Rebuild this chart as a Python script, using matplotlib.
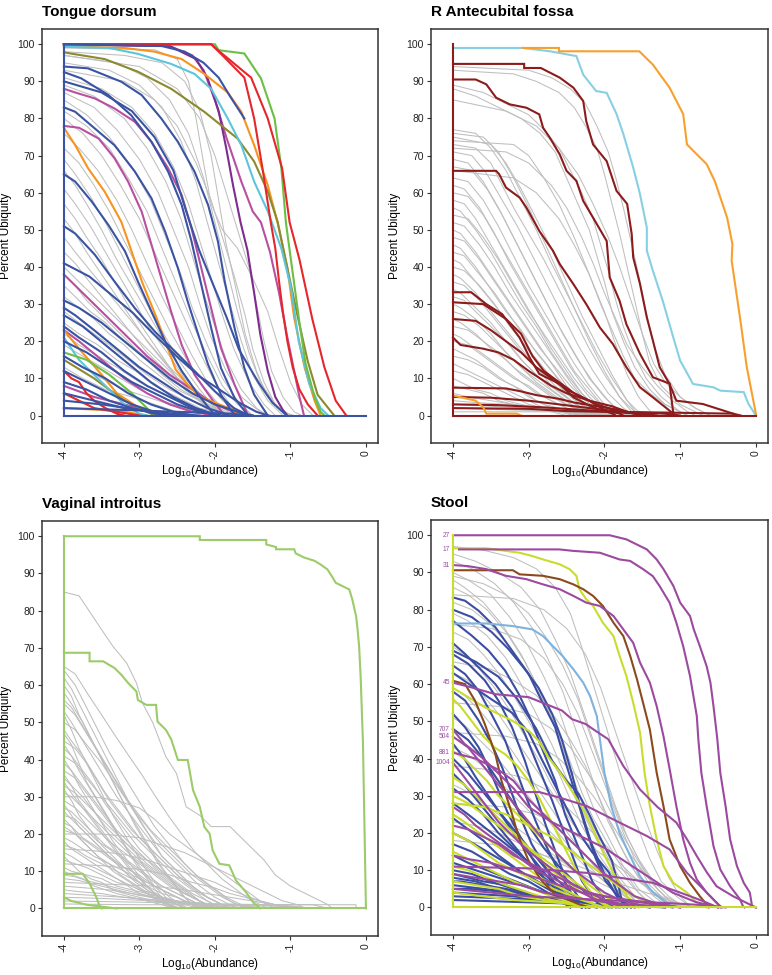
import matplotlib
matplotlib.use("Agg")
import matplotlib.pyplot as plt

plt.rcParams['font.family'] = ['Liberation Sans', 'DejaVu Sans']
plt.rcParams['mathtext.default'] = 'regular'

# ---------------- data: (log10 abundance, percent ubiquity) knots ----------------
# Tongue dorsum
td_grey = [
    [(-4,98),(-3.2,97),(-2.7,95),(-2.4,90),(-2.2,82),(-2.05,70),(-1.95,58),(-1.85,46),(-1.72,34),(-1.6,22),(-1.45,12),(-1.3,5),(-1.1,1),(-0.95,0)],
    [(-4,99),(-2.8,98.5),(-2.5,96),(-2.35,90),(-2.25,80),(-2.15,68),(-2.05,57),(-1.9,50),(-1.7,45),(-1.5,37),(-1.3,28),(-1.15,18),(-1.0,9),(-0.85,3),(-0.7,0)],
    [(-4,97),(-3.0,94),(-2.5,88),(-2.2,80),(-2.0,70),(-1.85,60),(-1.7,50),(-1.55,40),(-1.45,30),(-1.35,20),(-1.25,12),(-1.1,5),(-0.95,1),(-0.85,0)],
    [(-4,93),(-3.2,90),(-2.8,85),(-2.5,78),(-2.25,68),(-2.05,58),(-1.9,48),(-1.75,38),(-1.6,27),(-1.5,18),(-1.35,9),(-1.2,3),(-1.05,0)],
    [(-4,97),(-3.3,95),(-2.9,91),(-2.6,85),(-2.35,76),(-2.15,64),(-2.0,52),(-1.85,40),(-1.7,28),(-1.55,17),(-1.4,9),(-1.2,3),(-1.0,0)],
    [(-4,95),(-3.4,93),(-3.0,89),(-2.7,83),(-2.45,74),(-2.25,63),(-2.1,52),(-1.95,41),(-1.8,30),(-1.65,20),(-1.5,11),(-1.3,4),(-1.1,0)],
    [(-4,91),(-3.5,88),(-3.1,83),(-2.8,76),(-2.55,67),(-2.35,57),(-2.2,47),(-2.05,37),(-1.9,27),(-1.75,18),(-1.55,9),(-1.35,3),(-1.2,0)],
    [(-4,89),(-3.6,86),(-3.2,80),(-2.9,72),(-2.65,63),(-2.45,53),(-2.3,43),(-2.15,33),(-2.0,24),(-1.85,15),(-1.65,7),(-1.45,2),(-1.3,0)],
    [(-4,87),(-3.6,83),(-3.3,77),(-3.0,69),(-2.75,60),(-2.55,50),(-2.35,40),(-2.2,30),(-2.05,21),(-1.85,12),(-1.65,5),(-1.4,1),(-1.25,0)],
    [(-4,85),(-3.7,81),(-3.4,75),(-3.1,67),(-2.85,58),(-2.65,48),(-2.45,38),(-2.3,29),(-2.1,19),(-1.9,10),(-1.7,4),(-1.5,0)],
    [(-4,82),(-3.7,78),(-3.4,72),(-3.15,64),(-2.9,55),(-2.7,45),(-2.5,35),(-2.3,25),(-2.1,16),(-1.9,8),(-1.7,3),(-1.5,0)],
    [(-4,80),(-3.75,76),(-3.5,70),(-3.25,62),(-3.0,53),(-2.8,44),(-2.6,35),(-2.4,26),(-2.2,17),(-2.0,9),(-1.8,3),(-1.6,0)],
    [(-4,76),(-3.8,72),(-3.55,66),(-3.3,58),(-3.1,50),(-2.9,41),(-2.7,32),(-2.5,24),(-2.3,16),(-2.1,9),(-1.9,4),(-1.65,0)],
    [(-4,72),(-3.8,68),(-3.6,62),(-3.4,55),(-3.2,47),(-3.0,39),(-2.8,31),(-2.6,23),(-2.4,16),(-2.2,9),(-1.95,3),(-1.75,0)],
    [(-4,69),(-3.85,65),(-3.65,59),(-3.45,52),(-3.25,44),(-3.05,36),(-2.85,28),(-2.65,21),(-2.45,14),(-2.2,7),(-2.0,2),(-1.8,0)],
    [(-4,66),(-3.85,62),(-3.7,57),(-3.5,50),(-3.3,42),(-3.1,35),(-2.9,28),(-2.7,21),(-2.5,14),(-2.3,8),(-2.05,3),(-1.85,0)],
    [(-4,61),(-3.85,57),(-3.65,51),(-3.45,44),(-3.25,37),(-3.05,30),(-2.85,23),(-2.6,16),(-2.4,10),(-2.15,5),(-1.9,1),(-1.7,0)],
    [(-4,57),(-3.85,53),(-3.7,48),(-3.5,42),(-3.3,35),(-3.1,28),(-2.9,22),(-2.7,16),(-2.5,10),(-2.25,5),(-2.0,1),(-1.8,0)],
    [(-4,53),(-3.85,49),(-3.7,44),(-3.5,38),(-3.3,32),(-3.1,26),(-2.9,20),(-2.7,15),(-2.45,9),(-2.2,4),(-2.0,1),(-1.85,0)],
    [(-4,48),(-3.85,44),(-3.65,39),(-3.45,34),(-3.25,29),(-3.05,24),(-2.85,19),(-2.6,13),(-2.35,8),(-2.1,4),(-1.85,1),(-1.6,0)],
    [(-4,44),(-3.85,41),(-3.7,37),(-3.5,32),(-3.3,27),(-3.1,22),(-2.9,17),(-2.65,12),(-2.4,7),(-2.15,3),(-1.9,1),(-1.7,0)],
    [(-4,40),(-3.85,37),(-3.65,33),(-3.45,29),(-3.25,25),(-3.05,21),(-2.8,16),(-2.55,11),(-2.3,7),(-2.0,3),(-1.75,1),(-1.5,0)],
    [(-4,38),(-3.85,35),(-3.7,31),(-3.5,27),(-3.3,23),(-3.1,19),(-2.9,15),(-2.7,11),(-2.45,7),(-2.2,4),(-1.95,1),(-1.75,0)],
    [(-4,35),(-3.85,32),(-3.65,28),(-3.45,25),(-3.25,21),(-3.0,17),(-2.75,13),(-2.5,9),(-2.25,5),(-2.0,2),(-1.8,0)],
    [(-4,32),(-3.8,29),(-3.6,26),(-3.4,22),(-3.2,19),(-3.0,15),(-2.75,11),(-2.5,7),(-2.2,4),(-1.95,1),(-1.7,0)],
    [(-4,28),(-3.8,25),(-3.6,22),(-3.4,19),(-3.15,15),(-2.9,11),(-2.6,7),(-2.3,4),(-2.0,1.5),(-1.75,0)],
    [(-4,25),(-3.8,22),(-3.55,19),(-3.3,15),(-3.05,12),(-2.8,8),(-2.5,5),(-2.2,2),(-1.9,0.5),(-1.7,0)],
    [(-4,22),(-3.8,19),(-3.55,16),(-3.3,13),(-3.0,9),(-2.7,6),(-2.4,3),(-2.1,1),(-1.8,0)],
    [(-4,19),(-3.75,16),(-3.5,13),(-3.25,10),(-3.0,7),(-2.7,4),(-2.4,2),(-2.1,0.5),(-1.9,0)],
    [(-4,16),(-3.75,13),(-3.5,10),(-3.2,7),(-2.9,5),(-2.6,3),(-2.3,1),(-2.0,0)],
    [(-4,13),(-3.75,10),(-3.45,7),(-3.1,5),(-2.8,3),(-2.5,1),(-2.2,0)],
]
td_magenta = [
    [(-4,88),(-3.85,87),(-3.59,85.4),(-3.33,82.7),(-3.06,79.1),(-2.84,73.7),(-2.62,66.6),(-2.44,59.4),(-2.31,50.4),(-2.18,39.7),(-2.05,28.9),(-1.92,18.2),(-1.74,8.3),(-1.56,0)],
    [(-4,78),(-3.8,77.5),(-3.54,74.6),(-3.33,69.3),(-3.15,63),(-2.97,54.9),(-2.84,46),(-2.71,37),(-2.58,28),(-2.44,19),(-2.27,11),(-2.05,4.7),(-1.87,0)],
    [(-4,100),(-2.6,99.5),(-2.3,97),(-2.15,93),(-2.0,85),(-1.85,75),(-1.65,63),(-1.5,55),(-1.39,52),(-1.27,44),(-1.15,33),(-1.05,22),(-0.95,12),(-0.88,5),(-0.82,0)],
    [(-4,38),(-3.8,34),(-3.5,28),(-3.2,22),(-2.9,16),(-2.6,11),(-2.3,7),(-2.0,3),(-1.75,1),(-1.55,0)],
    [(-4,23),(-3.8,20),(-3.5,15),(-3.2,10),(-2.9,6),(-2.6,3),(-2.3,1),(-2.0,0)],
    [(-4,8),(-3.6,5),(-3.2,3),(-2.8,1),(-2.4,0)],
]
td_purple = [
    [(-4,100),(-2.6,99.5),(-2.25,96),(-2.1,91),(-1.95,82),(-1.85,72),(-1.76,62),(-1.66,52),(-1.57,44.6),(-1.48,33),(-1.4,22),(-1.3,12),(-1.2,5),(-1.1,1.5),(-1.04,0)],
]
td_orange = [
    [(-4,99.5),(-3.2,99),(-2.8,98),(-2.44,96),(-2.14,92),(-1.83,87),(-1.65,81.8),(-1.48,72.8),(-1.3,62),(-1.17,52),(-1.04,39.7),(-0.95,26.3),(-0.81,12.8),(-0.68,4),(-0.6,0)],
    [(-4,77.5),(-3.85,72.8),(-3.68,66.6),(-3.46,60.3),(-3.24,52.2),(-3.1,44),(-2.96,35.7),(-2.78,26.7),(-2.65,19.5),(-2.52,12.4),(-2.38,8.8),(-2.21,5.2),(-1.99,3.4),(-1.77,1.6),(-1.65,0)],
    [(-4,23),(-3.8,18),(-3.5,11),(-3.3,6),(-3.0,2),(-2.8,0.5),(-2.7,0)],
    [(-4,2),(-3.5,1.5),(-3.2,1),(-2.9,0)],
]
td_olive = [
    [(-4,97.8),(-3.46,96),(-3.02,92.6),(-2.58,88),(-2.14,81.8),(-1.92,78.2),(-1.7,74.6),(-1.48,68.4),(-1.3,60.3),(-1.17,52.2),(-1.04,39.7),(-0.9,26.3),(-0.77,14.6),(-0.64,5.6),(-0.42,0)],
    [(-4,15),(-3.6,10),(-3.2,4),(-2.85,0.5),(-2.8,0)],
]
td_cyan = [
    [(-4,99.3),(-3.4,99),(-3.02,97.4),(-2.58,94.7),(-2.27,92),(-2.05,88),(-1.83,80),(-1.65,72.8),(-1.48,63),(-1.3,55),(-1.12,45),(-0.99,34.3),(-0.89,20),(-0.75,8.5),(-0.6,2),(-0.5,0)],
    [(-4,21),(-3.8,15),(-3.5,9),(-3.2,3),(-3.0,0.5),(-2.9,0)],
]
td_green = [
    [(-4,100),(-2.0,100),(-1.95,98.4),(-1.61,97.5),(-1.39,90.8),(-1.21,80),(-1.12,66.6),(-1.06,52),(-0.98,40),(-0.88,25),(-0.8,14),(-0.68,5),(-0.6,1),(-0.55,0)],
    [(-4,17),(-3.7,15),(-3.4,11),(-3.1,6),(-2.9,2),(-2.8,0)],
]
td_red = [
    [(-4,100),(-2.05,100),(-1.96,98.4),(-1.52,91),(-1.3,80),(-1.11,66.6),(-1.01,52),(-0.88,42),(-0.71,26),(-0.55,13),(-0.4,4),(-0.26,0)],
    [(-4,100),(-2.05,100),(-1.9,97),(-1.61,91),(-1.48,80),(-1.37,66.6),(-1.26,52),(-1.2,45),(-1.15,36),(-1.1,28),(-1.04,20),(-0.97,13),(-0.88,7),(-0.77,3),(-0.64,0)],
    [(-4,12),(-3.9,10),(-3.8,9),(-3.7,6),(-3.6,4),(-3.45,2),(-3.3,0.5),(-3.2,0)],
    [(-4,6),(-3.8,4),(-3.6,2),(-3.3,1),(-3.0,0)],
]
td_blue = [
    [(-4,100),(-2.7,99.5),(-2.4,98),(-2.15,95),(-1.95,91),(-1.8,86),(-1.61,80)],
    [(-4,94),(-3.68,93.5),(-3.24,89.9),(-2.97,86.3),(-2.71,80),(-2.49,73.7),(-2.27,65.7),(-2.09,56.7),(-1.96,46.9),(-1.87,36.1),(-1.74,23.6),(-1.61,12.8),(-1.48,5.6),(-1.3,0)],
    [(-4,92.5),(-3.77,90.8),(-3.41,86.3),(-3.11,80.9),(-2.84,73.7),(-2.62,65.7),(-2.44,56.7),(-2.31,46.9),(-2.18,35.2),(-2.05,23.6),(-1.92,12.8),(-1.74,4.7),(-1.56,0)],
    [(-4,90),(-3.5,87),(-3.1,82),(-2.8,75),(-2.55,66),(-2.38,55),(-2.21,44.6),(-2.03,35.6),(-1.85,26.7),(-1.68,17.7),(-1.42,8.8),(-1.24,3.5),(-1.05,0)],
    [(-4,83),(-3.85,81.8),(-3.59,77.3),(-3.33,72.8),(-3.06,65.7),(-2.84,58.5),(-2.66,49.6),(-2.49,39.7),(-2.36,30.7),(-2.22,21.8),(-2.09,13.7),(-1.92,5.6),(-1.74,0)],
    [(-4,65),(-3.85,63),(-3.63,57.6),(-3.41,51.3),(-3.19,44.2),(-3.02,36.1),(-2.84,28),(-2.66,20),(-2.44,12),(-2.22,5.6),(-2.0,0)],
    [(-4,51),(-3.85,49),(-3.59,43.3),(-3.33,36.1),(-3.06,28.9),(-2.8,22.7),(-2.53,17.3),(-2.27,12),(-2.0,6.5),(-1.75,2),(-1.55,0)],
    [(-4,41),(-3.66,37.4),(-3.4,33),(-3.09,27.7),(-2.83,22.3),(-2.51,16),(-2.21,10.6),(-1.94,7),(-1.68,3.5),(-1.45,1),(-1.3,0)],
    [(-4,31),(-3.8,29),(-3.5,25),(-3.2,20),(-2.9,15),(-2.6,10),(-2.3,6),(-2.0,3),(-1.7,1),(-1.5,0)],
    [(-4,29),(-3.85,27),(-3.6,23),(-3.3,18),(-3.0,13),(-2.7,9),(-2.4,5),(-2.1,2),(-1.8,0)],
    [(-4,27),(-3.75,24),(-3.45,19),(-3.15,14),(-2.85,9),(-2.55,5),(-2.25,2),(-1.95,0)],
    [(-4,24),(-3.8,21),(-3.5,17),(-3.2,12),(-2.9,8),(-2.6,5),(-2.3,2),(-2.0,0)],
    [(-4,20),(-3.7,17),(-3.4,13),(-3.1,9),(-2.8,6),(-2.5,3),(-2.2,1),(-1.9,0)],
    [(-4,16),(-3.75,13),(-3.45,10),(-3.15,6),(-2.85,3),(-2.55,1),(-2.3,0)],
    [(-4,12),(-3.7,9),(-3.4,6),(-3.1,3),(-2.8,1),(-2.5,0)],
    [(-4,9),(-3.7,7),(-3.4,4),(-3.1,2),(-2.8,0.5),(-2.5,0)],
    [(-4,6),(-3.6,4),(-3.2,2),(-2.8,1),(-2.4,0)],
    [(-4,4),(-3.5,3),(-3.0,1.5),(-2.6,0.5),(-2.2,0)],
    [(-4,2),(-3.2,1.5),(-2.5,1),(-1.8,0.5),(-1.5,0)],
]

# R Antecubital fossa
ra_grey = [
    [(-4,94),(-3.0,93),(-2.7,91),(-2.45,88),(-2.25,84),(-2.1,78),(-1.95,71),(-1.85,64),(-1.75,56),(-1.65,47),(-1.55,38),(-1.45,28),(-1.35,19),(-1.2,11),(-1.0,5),(-0.8,2),(-0.6,0)],
    [(-4,93),(-3.2,92),(-2.9,90),(-2.6,87),(-2.4,83),(-2.25,78),(-2.1,72),(-2.0,65),(-1.9,57),(-1.8,49),(-1.7,40),(-1.6,31),(-1.5,22),(-1.4,14),(-1.25,8),(-1.0,3),(-0.7,0)],
    [(-4,89),(-3.6,87),(-3.3,84),(-3.0,81),(-2.8,77),(-2.6,72),(-2.45,66),(-2.3,60),(-2.15,53),(-2.05,46),(-1.95,39),(-1.85,31),(-1.75,24),(-1.6,16),(-1.45,10),(-1.25,5),(-1.0,1),(-0.9,0)],
    [(-4,88),(-3.7,86),(-3.4,83),(-3.1,80),(-2.85,76),(-2.65,71),(-2.5,64),(-2.35,57),(-2.2,50),(-2.1,43),(-2.0,36),(-1.9,28),(-1.75,20),(-1.6,13),(-1.4,7),(-1.2,3),(-0.9,0)],
    [(-4,85),(-3.3,82),(-2.9,78),(-2.6,72),(-2.35,65),(-2.15,57),(-1.95,48),(-1.8,40),(-1.65,31),(-1.5,22),(-1.35,14),(-1.2,9),(-1.0,5),(-0.8,2),(-0.6,0)],
    [(-4,72),(-3.3,71),(-3.0,68),(-2.7,62),(-2.5,56),(-2.3,48),(-2.15,41),(-2.0,33),(-1.85,26),(-1.7,19),(-1.5,13),(-1.3,8),(-1.1,4),(-0.9,1),(-0.8,0)],
    [(-4,66),(-3.2,64),(-2.9,60),(-2.6,53),(-2.4,46),(-2.2,38),(-2.05,30),(-1.9,23),(-1.75,16),(-1.6,10),(-1.4,6),(-1.2,3),(-1.0,1),(-0.9,0)],
    [(-4,77),(-3.7,76),(-3.5,72),(-3.3,66),(-3.1,58),(-2.9,50),(-2.7,41),(-2.5,33),(-2.3,25),(-2.1,17),(-1.9,10),(-1.7,4),(-1.5,0)],
    [(-4,76),(-3.6,75),(-3.4,71),(-3.2,64),(-3.0,56),(-2.8,47),(-2.6,38),(-2.4,29),(-2.2,20),(-2.0,12),(-1.8,5),(-1.6,0)],
    [(-4,75),(-3.5,73),(-3.3,68),(-3.1,61),(-2.9,53),(-2.7,45),(-2.5,36),(-2.3,27),(-2.1,19),(-1.9,11),(-1.7,4),(-1.55,0)],
    [(-4,74),(-3.2,73),(-3.0,70),(-2.8,64),(-2.6,57),(-2.4,48),(-2.2,38),(-2.0,28),(-1.85,19),(-1.7,11),(-1.55,5),(-1.35,0)],
    [(-4,73),(-3.7,72),(-3.5,68),(-3.35,62),(-3.2,56),(-3.0,49),(-2.8,42),(-2.6,34),(-2.4,26),(-2.2,18),(-2.0,11),(-1.8,5),(-1.6,1),(-1.4,0)],
    [(-4,71),(-3.75,70),(-3.55,65),(-3.35,58),(-3.15,51),(-2.95,43),(-2.75,35),(-2.55,27),(-2.35,19),(-2.15,12),(-1.95,6),(-1.75,2),(-1.6,0)],
    [(-4,69),(-3.8,68),(-3.6,63),(-3.4,56),(-3.2,48),(-3.0,40),(-2.8,32),(-2.6,24),(-2.4,17),(-2.2,10),(-2.0,5),(-1.8,1),(-1.65,0)],
    [(-4,67),(-3.75,66),(-3.55,61),(-3.35,54),(-3.15,46),(-2.95,38),(-2.75,30),(-2.55,22),(-2.35,15),(-2.15,9),(-1.95,4),(-1.75,0)],
    [(-4,64),(-3.8,63),(-3.6,58),(-3.4,51),(-3.2,43),(-3.0,35),(-2.8,28),(-2.6,21),(-2.4,14),(-2.2,8),(-2.0,3),(-1.85,0)],
    [(-4,62),(-3.85,61),(-3.65,56),(-3.45,49),(-3.25,41),(-3.05,34),(-2.85,27),(-2.65,20),(-2.45,13),(-2.25,7),(-2.05,3),(-1.9,0)],
    [(-4,60),(-3.8,59),(-3.6,54),(-3.4,47),(-3.2,40),(-3.0,33),(-2.8,26),(-2.6,19),(-2.4,12),(-2.2,7),(-2.0,2),(-1.85,0)],
    [(-4,58),(-3.85,57),(-3.7,53),(-3.5,46),(-3.3,39),(-3.1,32),(-2.9,25),(-2.7,18),(-2.5,12),(-2.3,6),(-2.1,2),(-1.95,0)],
    [(-4,56),(-3.9,55),(-3.7,50),(-3.5,44),(-3.3,37),(-3.1,30),(-2.9,24),(-2.7,17),(-2.5,11),(-2.3,6),(-2.1,2),(-1.95,0)],
    [(-4,54),(-3.8,53),(-3.6,48),(-3.4,42),(-3.2,35),(-3.0,28),(-2.8,22),(-2.6,16),(-2.4,10),(-2.2,5),(-2.0,1),(-1.85,0)],
    [(-4,52),(-3.85,51),(-3.65,46),(-3.45,40),(-3.25,33),(-3.05,27),(-2.85,21),(-2.65,15),(-2.45,9),(-2.25,4),(-2.05,1),(-1.9,0)],
    [(-4,50),(-3.9,49),(-3.7,44),(-3.5,38),(-3.3,32),(-3.1,26),(-2.9,20),(-2.7,14),(-2.5,8),(-2.3,4),(-2.1,1),(-1.95,0)],
    [(-4,48),(-3.85,47),(-3.65,42),(-3.45,36),(-3.25,30),(-3.05,24),(-2.85,18),(-2.65,13),(-2.45,8),(-2.25,4),(-2.05,1),(-1.9,0)],
    [(-4,46),(-3.9,45),(-3.7,40),(-3.5,34),(-3.3,28),(-3.1,23),(-2.9,17),(-2.7,12),(-2.5,7),(-2.3,3),(-2.1,1),(-2.0,0)],
    [(-4,44),(-3.85,43),(-3.65,38),(-3.45,33),(-3.25,27),(-3.05,21),(-2.85,16),(-2.65,11),(-2.45,6),(-2.25,3),(-2.05,0)],
    [(-4,42),(-3.9,41),(-3.7,36),(-3.5,31),(-3.3,26),(-3.1,20),(-2.9,15),(-2.7,10),(-2.5,6),(-2.3,3),(-2.1,0)],
    [(-4,40),(-3.85,39),(-3.65,35),(-3.45,30),(-3.25,24),(-3.05,19),(-2.85,14),(-2.65,9),(-2.45,5),(-2.25,2),(-2.05,0)],
    [(-4,38),(-3.9,37),(-3.7,33),(-3.5,28),(-3.3,23),(-3.1,18),(-2.9,13),(-2.7,8),(-2.5,5),(-2.3,2),(-2.15,0)],
    [(-4,36),(-3.85,35),(-3.65,31),(-3.45,26),(-3.25,21),(-3.05,16),(-2.85,12),(-2.65,8),(-2.45,4),(-2.2,1),(-2.05,0)],
    [(-4,34),(-3.9,33),(-3.7,29),(-3.5,25),(-3.3,20),(-3.1,15),(-2.9,11),(-2.7,7),(-2.5,4),(-2.3,1),(-2.1,0)],
    [(-4,32),(-3.85,31),(-3.65,27),(-3.45,23),(-3.25,19),(-3.05,14),(-2.85,10),(-2.65,7),(-2.45,4),(-2.25,1),(-2.1,0)],
    [(-4,30),(-3.9,29),(-3.7,26),(-3.5,22),(-3.3,17),(-3.1,13),(-2.9,9),(-2.7,6),(-2.5,3),(-2.3,1),(-2.15,0)],
    [(-4,28),(-3.85,27),(-3.65,24),(-3.45,20),(-3.25,16),(-3.05,12),(-2.85,9),(-2.65,6),(-2.45,3),(-2.25,1),(-2.1,0)],
    [(-4,26),(-3.9,25),(-3.7,22),(-3.5,18),(-3.3,15),(-3.1,11),(-2.9,8),(-2.7,5),(-2.5,3),(-2.3,1),(-2.2,0)],
    [(-4,24),(-3.8,23),(-3.6,20),(-3.4,17),(-3.2,13),(-3.0,10),(-2.8,7),(-2.6,4),(-2.4,2),(-2.2,1),(-2.0,0)],
    [(-4,22),(-3.9,21),(-3.7,18),(-3.5,15),(-3.3,12),(-3.1,9),(-2.9,6),(-2.7,4),(-2.5,2),(-2.3,1),(-2.2,0)],
    [(-4,20),(-3.8,19),(-3.6,16),(-3.4,13),(-3.2,10),(-3.0,8),(-2.8,5),(-2.6,3),(-2.4,1),(-2.2,0)],
    [(-4,18),(-3.9,17),(-3.7,15),(-3.5,12),(-3.3,9),(-3.1,7),(-2.9,4),(-2.7,2),(-2.5,1),(-2.3,0)],
    [(-4,16),(-3.8,15),(-3.6,13),(-3.4,10),(-3.2,8),(-3.0,5),(-2.8,3),(-2.6,2),(-2.4,1),(-2.2,0)],
    [(-4,14),(-3.9,13),(-3.7,11),(-3.5,9),(-3.3,7),(-3.1,5),(-2.9,3),(-2.7,1),(-2.5,0)],
    [(-4,12),(-3.8,11),(-3.6,9),(-3.4,7),(-3.2,5),(-3.0,3),(-2.8,2),(-2.5,1),(-2.3,0)],
    [(-4,10),(-3.9,9),(-3.7,7),(-3.5,6),(-3.3,4),(-3.1,3),(-2.9,2),(-2.6,1),(-2.4,0)],
    [(-4,8),(-3.8,7),(-3.6,6),(-3.4,4),(-3.2,3),(-2.9,2),(-2.6,1),(-2.3,0)],
    [(-4,6),(-3.8,5),(-3.5,4),(-3.2,3),(-2.9,2),(-2.5,1),(-2.2,0)],
    [(-4,4),(-3.7,3.5),(-3.3,3),(-2.9,2),(-2.5,1),(-2.1,0.5),(-1.9,0)],
    [(-4,3),(-3.5,2.5),(-3.0,2),(-2.5,1.5),(-2.0,1),(-1.6,0)],
    [(-4,2),(-3.2,1.5),(-2.5,1),(-1.8,1),(-1.2,0.5),(-1.0,0)],
    [(-4,1),(-3.0,1),(-2.0,1),(-1.5,1),(-1.0,0)],
]
ra_darkred = [
    [(-4,94.7),(-3.06,94.7),(-3.06,93.6),(-2.84,93.6),(-2.59,91),(-2.41,88.3),(-2.28,84.7),(-2.24,79.3),(-2.15,73),(-1.97,68.5),(-1.84,60.5),(-1.7,57),(-1.64,48.9),(-1.62,42.6),(-1.53,35.4),(-1.44,26.4),(-1.36,20.2),(-1.27,13),(-1.14,8.5),(-1.05,4),(-0.7,3.1),(-0.3,0.5),(-0.28,0)],
    [(-4,90.5),(-3.7,90.5),(-3.56,89.2),(-3.43,85.6),(-3.25,83.8),(-3.03,82.9),(-2.86,81.1),(-2.81,77.5),(-2.72,74.8),(-2.59,70.3),(-2.5,65.9),(-2.37,63.2),(-2.28,57.8),(-2.15,53.3),(-1.97,47),(-1.93,37.2),(-1.8,30.9),(-1.71,24.6),(-1.53,16.6),(-1.36,10.3),(-1.14,8.6),(-1.09,0.5),(-1.08,0)],
    [(-4,65.9),(-3.43,65.9),(-3.39,65),(-3.3,61.4),(-3.12,58.7),(-3.03,56),(-2.86,49.7),(-2.68,44.4),(-2.59,40.8),(-2.41,35.4),(-2.24,30),(-2.06,23.7),(-1.89,19.3),(-1.71,13),(-1.53,7.6),(-1.36,4.9),(-1.09,0.5),(-1.08,0)],
    [(-4,33.2),(-3.76,33.2),(-3.56,30),(-3.35,27.3),(-3.12,21),(-2.99,15.7),(-2.86,11.2),(-2.59,8.5),(-2.41,4.9),(-2.15,2.2),(-1.89,0.5),(-1.85,0)],
    [(-4,30.5),(-3.6,30),(-3.3,26),(-3.1,22),(-2.95,16),(-2.8,12),(-2.6,9),(-2.4,6),(-2.2,4),(-2.0,1.5),(-1.8,0.5),(-1.75,0)],
    [(-4,26),(-3.7,25.5),(-3.5,23),(-3.3,20),(-3.1,17),(-2.9,13),(-2.7,10),(-2.5,7),(-2.3,5),(-2.1,3),(-1.8,1),(-1.6,0.5),(-1.55,0)],
    [(-4,21),(-3.9,19),(-3.6,18),(-3.4,17),(-3.2,15),(-3.0,12),(-2.7,8),(-2.5,6),(-2.2,4),(-1.9,2.5),(-1.7,1),(-1.5,0.5),(-1.45,0)],
    [(-4,7.5),(-3.3,7.3),(-3.1,6.5),(-2.9,5.5),(-2.6,4.5),(-2.4,3.5),(-2.1,2.5),(-1.8,1.5),(-1.6,0.5),(-1.5,0)],
    [(-4,5),(-3.5,4.8),(-3.0,4),(-2.6,3),(-2.2,2),(-1.8,1),(-1.2,0.5),(-1.0,0)],
    [(-4,3),(-3.4,2.8),(-2.8,2.2),(-2.3,1.5),(-1.9,1),(-1.5,0.5),(-1.3,0)],
    [(-4,2),(-3.0,1.8),(-2.5,1.2),(-2.0,1),(-1.2,0.8),(-0.3,0.5),(-0.2,0)],
]
ra_cyan = [
    [(-4,99),(-3.08,99),(-2.72,98.1),(-2.37,96.8),(-2.28,91.8),(-2.11,87.4),(-1.97,86.9),(-1.84,81.2),(-1.75,75.8),(-1.62,66.8),(-1.53,59.6),(-1.44,50.6),(-1.44,44.4),(-1.36,39),(-1.23,30.9),(-1.09,21),(-1.0,14.8),(-0.83,8.5),(-0.56,7.6),(-0.47,6.7),(-0.16,6.3),(-0.1,3.2),(0,0)],
]
ra_orange = [
    [(-3.08,99),(-2.6,99),(-2.6,98.1),(-1.54,98.1),(-1.36,94.5),(-1.14,88.3),(-0.96,81.2),(-0.91,73),(-0.65,67.7),(-0.54,63),(-0.38,53.3),(-0.31,46.2),(-0.32,41.7),(-0.21,26.4),(-0.12,13),(0,0.5),(0,0)],
    [(-4,5.4),(-3.7,4),(-3.6,2.2),(-3.56,0.5),(-3.16,0.5),(-3.1,0)],
]

# Vaginal introitus
vi_grey = [
    [(-4,85),(-3.9,84.5),(-3.8,84),(-3.7,81),(-3.53,75.8),(-3.35,70.4),(-3.17,66),(-3.04,60.6),(-2.96,55.2),(-2.82,49.8),(-2.65,40.8),(-2.51,36.3),(-2.38,27.3),(-2.2,25),(-2.05,22),(-1.8,22),(-1.55,17),(-1.35,13),(-1.2,9),(-1.0,6),(-0.7,3),(-0.5,1),(-0.45,0)],
    [(-4,65),(-3.85,63),(-3.68,57.5),(-3.5,52),(-3.33,46.7),(-3.15,41.3),(-2.97,36),(-2.8,30.5),(-2.62,25),(-2.44,20),(-2.27,15.3),(-2.09,11.7),(-1.91,8),(-1.74,5.4),(-1.56,2.7),(-1.39,0.9),(-1.3,0)],
    [(-4,64),(-3.85,60),(-3.7,54),(-3.55,48),(-3.4,42),(-3.25,37),(-3.1,32),(-2.95,27),(-2.8,22),(-2.6,17),(-2.4,12),(-2.2,8),(-2.0,5),(-1.8,2),(-1.6,0)],
    [(-4,62),(-3.9,59),(-3.75,53),(-3.6,47),(-3.45,41),(-3.3,35),(-3.15,29),(-3.0,24),(-2.85,19),(-2.7,14),(-2.5,10),(-2.3,6),(-2.1,3),(-1.9,1),(-1.8,0)],
    [(-4,60),(-3.9,57),(-3.8,52),(-3.65,46),(-3.5,40),(-3.35,34),(-3.2,28),(-3.05,22),(-2.9,17),(-2.75,12),(-2.6,8),(-2.45,4),(-2.3,1),(-2.2,0)],
    [(-4,58),(-3.9,55),(-3.75,50),(-3.6,44),(-3.45,38),(-3.3,32),(-3.15,26),(-3.0,21),(-2.85,16),(-2.7,11),(-2.55,7),(-2.4,3),(-2.25,0)],
    [(-4,56),(-3.9,54),(-3.75,49),(-3.6,44),(-3.45,39),(-3.3,34),(-3.15,29),(-3.0,25),(-2.85,21),(-2.65,17),(-2.45,13),(-2.25,9),(-2.05,6),(-1.85,3),(-1.65,1),(-1.5,0)],
    [(-4,55),(-3.85,52),(-3.7,47),(-3.55,42),(-3.4,37),(-3.25,32),(-3.1,27),(-2.95,22),(-2.8,18),(-2.6,14),(-2.4,10),(-2.2,6),(-2.0,3),(-1.8,1),(-1.7,0)],
    [(-4,53),(-3.9,50),(-3.75,45),(-3.6,40),(-3.45,35),(-3.3,30),(-3.15,26),(-3.0,22),(-2.85,18),(-2.7,14),(-2.5,10),(-2.3,6),(-2.1,3),(-1.9,1),(-1.8,0)],
    [(-4,52),(-3.9,48),(-3.8,43),(-3.65,37),(-3.5,31),(-3.35,25),(-3.2,20),(-3.05,15),(-2.9,10),(-2.75,6),(-2.6,3),(-2.45,1),(-2.35,0)],
    [(-4,50),(-3.85,48),(-3.7,44),(-3.5,39),(-3.3,33),(-3.1,27),(-2.9,22),(-2.7,17),(-2.5,13),(-2.3,9),(-2.1,6),(-1.9,3),(-1.7,1),(-1.55,0)],
    [(-4,48),(-3.9,45),(-3.75,41),(-3.6,36),(-3.45,31),(-3.3,27),(-3.15,23),(-3.0,19),(-2.8,15),(-2.6,11),(-2.4,7),(-2.2,4),(-2.0,2),(-1.8,0)],
    [(-4,47),(-3.9,44),(-3.8,39),(-3.7,34),(-3.55,29),(-3.4,24),(-3.25,19),(-3.1,14),(-2.95,10),(-2.8,6),(-2.65,3),(-2.5,1),(-2.4,0)],
    [(-4,45),(-3.85,43),(-3.7,39),(-3.55,34),(-3.4,29),(-3.25,25),(-3.1,21),(-2.9,17),(-2.7,13),(-2.5,9),(-2.3,6),(-2.1,3),(-1.9,1),(-1.75,0)],
    [(-4,44),(-3.9,41),(-3.8,37),(-3.65,32),(-3.5,27),(-3.35,22),(-3.2,17),(-3.05,12),(-2.9,8),(-2.75,4),(-2.6,1),(-2.5,0)],
    [(-4,43),(-3.9,41),(-3.75,37),(-3.6,33),(-3.45,28),(-3.3,24),(-3.15,20),(-3.0,16),(-2.8,12),(-2.6,8),(-2.4,5),(-2.2,2),(-2.0,0)],
    [(-4,41),(-3.85,39),(-3.7,35),(-3.5,30),(-3.3,25),(-3.1,20),(-2.9,16),(-2.7,12),(-2.5,8),(-2.3,5),(-2.1,2),(-1.9,0)],
    [(-4,40),(-3.9,37),(-3.8,33),(-3.65,28),(-3.5,23),(-3.35,18),(-3.2,14),(-3.05,10),(-2.9,6),(-2.75,3),(-2.6,1),(-2.5,0)],
    [(-4,39),(-3.9,37),(-3.75,33),(-3.6,29),(-3.45,25),(-3.3,21),(-3.15,18),(-3.0,15),(-2.8,11),(-2.6,8),(-2.4,5),(-2.2,2),(-2.0,0)],
    [(-4,37),(-3.85,35),(-3.7,31),(-3.55,27),(-3.4,23),(-3.25,19),(-3.1,16),(-2.9,12),(-2.7,9),(-2.5,6),(-2.3,3),(-2.1,1),(-1.95,0)],
    [(-4,36),(-3.9,33),(-3.8,29),(-3.65,25),(-3.5,21),(-3.35,17),(-3.2,13),(-3.05,9),(-2.9,6),(-2.75,3),(-2.6,1),(-2.5,0)],
    [(-4,35),(-3.9,33),(-3.75,30),(-3.6,26),(-3.45,22),(-3.3,19),(-3.15,16),(-3.0,13),(-2.8,10),(-2.6,7),(-2.4,4),(-2.2,2),(-2.0,0)],
    [(-4,34),(-3.9,31),(-3.75,27),(-3.6,23),(-3.45,19),(-3.3,15),(-3.15,11),(-3.0,8),(-2.85,5),(-2.7,2),(-2.55,0)],
    [(-4,33),(-3.85,31),(-3.7,28),(-3.5,24),(-3.3,20),(-3.1,16),(-2.9,13),(-2.7,10),(-2.5,7),(-2.3,4),(-2.1,2),(-1.9,0)],
    [(-4,32),(-3.9,29),(-3.8,25),(-3.65,21),(-3.5,17),(-3.35,14),(-3.2,11),(-3.05,8),(-2.9,5),(-2.75,3),(-2.6,1),(-2.5,0)],
    [(-4,31),(-3.9,30),(-3.75,27),(-3.6,24),(-3.45,21),(-3.3,18),(-3.1,14),(-2.9,11),(-2.7,8),(-2.5,5),(-2.3,3),(-2.1,1),(-2.0,0)],
    [(-4,30),(-3.6,30),(-3.3,29),(-3.0,27),(-2.8,24),(-2.6,20),(-2.4,17),(-2.2,14),(-2.0,11),(-1.8,8),(-1.6,5),(-1.4,2),(-1.2,0)],
    [(-4,29),(-3.85,27),(-3.7,24),(-3.55,21),(-3.4,18),(-3.2,15),(-3.0,12),(-2.8,9),(-2.6,6),(-2.4,4),(-2.2,2),(-2.0,0)],
    [(-4,28),(-3.9,25),(-3.8,22),(-3.65,19),(-3.5,16),(-3.35,13),(-3.2,10),(-3.05,7),(-2.9,5),(-2.75,3),(-2.6,1),(-2.45,0)],
    [(-4,27),(-3.9,26),(-3.75,23),(-3.6,20),(-3.45,17),(-3.3,15),(-3.1,12),(-2.9,9),(-2.7,6),(-2.5,4),(-2.3,2),(-2.1,0)],
    [(-4,26),(-3.9,24),(-3.75,21),(-3.6,18),(-3.45,15),(-3.3,12),(-3.15,9),(-3.0,7),(-2.85,5),(-2.7,3),(-2.5,1),(-2.4,0)],
    [(-4,25),(-3.85,24),(-3.7,21),(-3.55,18),(-3.4,16),(-3.2,13),(-3.0,10),(-2.8,7),(-2.6,5),(-2.4,3),(-2.2,1),(-2.05,0)],
    [(-4,24),(-3.9,22),(-3.8,19),(-3.65,16),(-3.5,13),(-3.35,10),(-3.2,8),(-3.05,6),(-2.9,4),(-2.75,2),(-2.6,1),(-2.5,0)],
    [(-4,23),(-3.9,22),(-3.75,19),(-3.6,17),(-3.4,14),(-3.2,11),(-3.0,9),(-2.8,6),(-2.6,4),(-2.4,2),(-2.2,1),(-2.1,0)],
    [(-4,22),(-3.85,20),(-3.7,17),(-3.55,14),(-3.4,12),(-3.25,9),(-3.1,7),(-2.95,5),(-2.8,3),(-2.65,1),(-2.5,0)],
    [(-4,21),(-3.85,20),(-3.7,18),(-3.5,15),(-3.3,12),(-3.1,10),(-2.9,7),(-2.7,5),(-2.5,3),(-2.3,1),(-2.15,0)],
    [(-4,20),(-3.5,20),(-3.0,19),(-2.7,17),(-2.4,15),(-2.1,12),(-1.9,10),(-1.7,8),(-1.5,6),(-1.3,4),(-1.1,2),(-0.9,1),(-0.8,0)],
    [(-4,19),(-3.9,18),(-3.75,16),(-3.6,14),(-3.4,12),(-3.2,10),(-3.0,8),(-2.8,6),(-2.6,4),(-2.4,2),(-2.2,1),(-2.0,0)],
    [(-4,18),(-3.9,16),(-3.75,14),(-3.6,12),(-3.45,10),(-3.3,8),(-3.15,6),(-3.0,4),(-2.85,3),(-2.7,2),(-2.5,1),(-2.35,0)],
    [(-4,17),(-3.85,16),(-3.7,14),(-3.5,12),(-3.3,10),(-3.1,8),(-2.9,6),(-2.7,4),(-2.5,3),(-2.3,1),(-2.1,0)],
    [(-4,16),(-3.6,15.5),(-3.2,14.5),(-2.9,13),(-2.6,11),(-2.3,9),(-2.0,7),(-1.8,5),(-1.6,3.5),(-1.4,2),(-1.2,1),(-1.0,0)],
    [(-4,15),(-3.9,14),(-3.75,12),(-3.6,11),(-3.4,9),(-3.2,7),(-3.0,5),(-2.8,4),(-2.6,2),(-2.4,1),(-2.2,0)],
    [(-4,14),(-3.9,12),(-3.8,10),(-3.65,8),(-3.5,7),(-3.35,5),(-3.2,4),(-3.0,3),(-2.8,2),(-2.6,1),(-2.45,0)],
    [(-4,13),(-3.85,12),(-3.7,11),(-3.5,9),(-3.3,7),(-3.1,6),(-2.9,4),(-2.7,3),(-2.5,2),(-2.3,1),(-2.1,0)],
    [(-4,12),(-3.5,11.5),(-3.0,10.5),(-2.6,9),(-2.3,7),(-2.0,5.5),(-1.8,4),(-1.6,3),(-1.4,2),(-1.2,1),(-0.9,0.5),(-0.8,0)],
    [(-4,11),(-3.9,10),(-3.7,9),(-3.5,8),(-3.3,6),(-3.1,5),(-2.9,4),(-2.7,3),(-2.5,2),(-2.2,1),(-2.0,0)],
    [(-4,10),(-3.9,9),(-3.75,8),(-3.6,6),(-3.45,5),(-3.3,4),(-3.1,3),(-2.9,2),(-2.7,1),(-2.55,0)],
    [(-4,9),(-3.85,8.5),(-3.7,7.5),(-3.5,6.5),(-3.3,5.5),(-3.1,4.5),(-2.9,3.5),(-2.7,2.5),(-2.4,1.5),(-2.1,1),(-1.8,0)],
    [(-4,8),(-3.8,7.5),(-3.6,6.5),(-3.4,5.5),(-3.2,4.5),(-3.0,3.5),(-2.7,2.5),(-2.4,1.5),(-2.1,1),(-1.7,0)],
    [(-4,7),(-3.4,6.5),(-2.8,6),(-2.4,5),(-2.1,4),(-1.8,3),(-1.5,2),(-1.2,1),(-0.7,1),(-0.5,0)],
    [(-4,6),(-3.7,5.5),(-3.4,5),(-3.1,4),(-2.8,3),(-2.5,2),(-2.2,1.5),(-1.9,1),(-1.6,0)],
    [(-4,5),(-3.8,4.5),(-3.5,4),(-3.2,3),(-2.9,2.5),(-2.6,2),(-2.3,1),(-1.9,0.5),(-1.7,0)],
    [(-4,4),(-3.6,3.5),(-3.2,3),(-2.8,2),(-2.4,1.5),(-2.0,1),(-1.5,0.5),(-1.3,0)],
    [(-4,3),(-3.5,2.7),(-3.0,2.2),(-2.5,1.8),(-2.0,1.2),(-1.5,1),(-1.0,0.5),(-0.8,0)],
    [(-4,2),(-3.3,1.8),(-2.6,1.5),(-1.9,1.2),(-1.2,1),(-0.5,1),(-0.13,1),(-0.13,0)],
    [(-4,1.2),(-3.0,1),(-2.0,1),(-1.0,0.5),(-0.6,0)],
]
vi_green = [
    [(-4,100),(-2.2,100),(-2.2,99),(-1.32,99),(-1.32,97.8),(-1.19,97.1),(-1.19,96.5),(-0.95,96.5),(-0.93,95.4),(-0.82,94.3),(-0.68,93.4),(-0.6,92.4),(-0.51,91.1),(-0.44,88.9),(-0.4,87.5),(-0.31,86.6),(-0.22,85.7),(-0.18,83),(-0.13,78.5),(-0.11,74.9),(-0.09,70.4),(-0.07,62.3),(-0.05,50.7),(-0.04,45.3),(-0.02,22.9),(0,0.3),(0,0)],
    [(-4,68.7),(-3.66,68.7),(-3.66,66.4),(-3.48,66.4),(-3.33,64.6),(-3.24,62.8),(-3.15,60.6),(-3.04,58.3),(-3.02,56),(-2.91,54.7),(-2.78,54.7),(-2.76,50.2),(-2.65,48),(-2.58,45.5),(-2.49,39.9),(-2.36,39.9),(-2.29,31.8),(-2.2,27.3),(-2.14,21.9),(-2.07,20.1),(-2.03,15.6),(-1.94,12),(-1.81,11.6),(-1.72,7.5),(-1.59,4.4),(-1.48,1.3),(-1.41,0.3),(-1.4,0)],
    [(-4,9.3),(-3.75,9.3),(-3.66,6.7),(-3.57,3),(-3.53,0.8),(-3.5,0)],
    [(-4,3),(-3.9,2),(-3.7,1),(-3.5,0.5),(-3.3,0)],
]

# Stool
st_grey = [
    [(-4,97),(-3.6,96),(-3.2,94),(-2.9,91),(-2.65,86),(-2.45,79),(-2.3,70),(-2.15,60),(-2.0,50),(-1.85,40),(-1.7,30),(-1.55,21),(-1.4,13),(-1.25,7),(-1.05,3),(-0.85,0)],
    [(-4,95),(-3.7,93),(-3.4,90),(-3.1,86),(-2.85,80),(-2.65,72),(-2.45,63),(-2.3,54),(-2.15,45),(-2.0,36),(-1.85,27),(-1.7,19),(-1.5,11),(-1.3,5),(-1.1,1),(-0.95,0)],
    [(-4,93),(-3.75,91),(-3.45,87),(-3.2,82),(-2.95,75),(-2.75,67),(-2.55,58),(-2.4,49),(-2.25,40),(-2.1,31),(-1.95,23),(-1.75,15),(-1.55,8),(-1.35,3),(-1.15,0)],
    [(-4,90),(-3.8,88),(-3.5,84),(-3.25,78),(-3.0,70),(-2.8,62),(-2.6,53),(-2.45,44),(-2.3,35),(-2.15,27),(-1.95,19),(-1.75,11),(-1.55,5),(-1.3,1),(-1.15,0)],
    [(-4,89),(-3.6,87),(-3.3,84),(-3.0,79),(-2.75,72),(-2.55,65),(-2.35,56),(-2.2,47),(-2.05,38),(-1.9,29),(-1.75,21),(-1.55,13),(-1.35,7),(-1.15,3),(-0.95,0)],
    [(-4,88),(-3.85,86),(-3.6,82),(-3.35,76),(-3.1,68),(-2.9,60),(-2.7,51),(-2.55,42),(-2.4,34),(-2.25,26),(-2.05,18),(-1.85,11),(-1.6,5),(-1.4,1),(-1.25,0)],
    [(-4,86),(-3.8,84),(-3.55,80),(-3.3,74),(-3.05,66),(-2.85,58),(-2.65,49),(-2.5,40),(-2.35,31),(-2.2,23),(-2.0,15),(-1.8,8),(-1.6,3),(-1.4,0)],
    [(-4,84),(-3.2,83),(-2.8,80),(-2.5,75),(-2.25,68),(-2.05,59),(-1.9,50),(-1.75,41),(-1.6,32),(-1.45,23),(-1.3,15),(-1.15,8),(-1.0,3),(-0.85,0)],
    [(-4,82),(-3.75,80),(-3.5,76),(-3.25,70),(-3.0,63),(-2.8,55),(-2.6,47),(-2.45,39),(-2.3,31),(-2.15,24),(-1.95,17),(-1.75,10),(-1.55,4),(-1.35,0)],
    [(-4,79),(-3.8,77),(-3.55,73),(-3.3,67),(-3.1,60),(-2.9,52),(-2.7,44),(-2.55,37),(-2.4,30),(-2.2,22),(-2.0,14),(-1.8,7),(-1.6,2),(-1.45,0)],
    [(-4,76),(-3.5,75),(-3.1,72),(-2.8,67),(-2.55,60),(-2.35,52),(-2.2,44),(-2.05,36),(-1.9,28),(-1.75,20),(-1.6,13),(-1.4,6),(-1.2,2),(-1.05,0)],
    [(-4,74),(-3.8,72),(-3.6,68),(-3.4,63),(-3.2,57),(-3.0,50),(-2.8,43),(-2.6,36),(-2.45,29),(-2.3,22),(-2.1,15),(-1.9,9),(-1.7,4),(-1.5,0)],
    [(-4,70),(-3.85,68),(-3.65,64),(-3.45,59),(-3.25,53),(-3.05,46),(-2.85,39),(-2.7,33),(-2.5,26),(-2.3,19),(-2.1,13),(-1.9,7),(-1.7,3),(-1.5,0)],
    [(-4,66),(-3.5,64),(-3.2,61),(-2.9,57),(-2.65,51),(-2.45,45),(-2.25,38),(-2.1,31),(-1.95,24),(-1.8,17),(-1.65,11),(-1.45,6),(-1.25,2),(-1.1,0)],
    [(-4,63),(-3.8,61),(-3.6,57),(-3.4,52),(-3.2,46),(-3.0,40),(-2.8,34),(-2.6,28),(-2.4,22),(-2.2,16),(-2.0,11),(-1.8,6),(-1.6,2),(-1.4,0)],
    [(-4,59),(-3.85,57),(-3.65,53),(-3.45,48),(-3.25,43),(-3.05,37),(-2.85,31),(-2.65,25),(-2.45,19),(-2.25,14),(-2.05,9),(-1.85,5),(-1.65,2),(-1.45,0)],
    [(-4,55),(-3.4,54),(-3.0,52),(-2.7,48),(-2.45,43),(-2.25,37),(-2.05,31),(-1.9,25),(-1.75,19),(-1.6,14),(-1.45,9),(-1.3,5),(-1.15,2),(-1.0,0)],
    [(-4,51),(-3.85,49),(-3.65,45),(-3.45,41),(-3.25,36),(-3.05,31),(-2.85,26),(-2.65,21),(-2.45,16),(-2.25,12),(-2.05,8),(-1.85,4),(-1.65,1),(-1.5,0)],
    [(-4,47),(-3.3,46),(-2.9,44),(-2.6,40),(-2.35,35),(-2.15,30),(-1.95,24),(-1.8,19),(-1.65,14),(-1.5,10),(-1.35,6),(-1.2,3),(-1.0,1),(-0.9,0)],
    [(-4,43),(-3.8,41),(-3.6,38),(-3.4,34),(-3.2,30),(-3.0,26),(-2.8,22),(-2.6,18),(-2.4,14),(-2.2,10),(-2.0,7),(-1.8,4),(-1.6,1),(-1.45,0)],
    [(-4,38),(-3.5,37),(-3.1,35),(-2.8,32),(-2.55,28),(-2.35,24),(-2.15,20),(-1.95,16),(-1.8,12),(-1.6,8),(-1.4,5),(-1.2,2),(-1.0,0)],
    [(-4,33),(-3.8,31),(-3.6,28),(-3.4,25),(-3.2,22),(-3.0,19),(-2.8,16),(-2.6,13),(-2.4,10),(-2.2,7),(-2.0,4),(-1.8,2),(-1.6,0)],
    [(-4,28),(-3.3,27),(-2.9,25),(-2.6,22),(-2.35,19),(-2.15,16),(-1.95,13),(-1.75,10),(-1.55,7),(-1.35,4),(-1.15,2),(-0.95,0)],
    [(-4,23),(-3.7,22),(-3.4,20),(-3.1,17),(-2.8,14),(-2.5,11),(-2.2,8),(-1.9,5),(-1.6,3),(-1.3,1),(-1.1,0)],
    [(-4,18),(-3.5,17),(-3.0,15),(-2.6,13),(-2.2,10),(-1.9,7),(-1.6,5),(-1.3,3),(-1.0,1),(-0.8,0)],
]
st_blue = [
    [(-4,83.3),(-3.84,82.4),(-3.66,79.7),(-3.44,75.3),(-3.22,69),(-3.0,62.7),(-2.83,55.6),(-2.65,48.4),(-2.52,39.4),(-2.38,30.5),(-2.25,21.5),(-2.12,13.4),(-1.99,7.2),(-1.81,2.7),(-1.65,0)],
    [(-4,80),(-3.75,78),(-3.49,74),(-3.27,69.5),(-3.05,64),(-2.87,59),(-2.69,52),(-2.56,45),(-2.43,36),(-2.3,25.5),(-2.16,16.5),(-1.99,8.5),(-1.81,2),(-1.65,0)],
    [(-4,77),(-3.75,73),(-3.53,69),(-3.31,63.6),(-3.13,57.3),(-2.96,50),(-2.83,43),(-2.65,34),(-2.52,25),(-2.34,16),(-2.16,7),(-1.99,1.8),(-1.85,0)],
    [(-4,71),(-3.84,68.1),(-3.66,64.5),(-3.44,60),(-3.22,53.8),(-3.05,46.6),(-2.87,37.6),(-2.69,28.7),(-2.56,21.5),(-2.43,14.3),(-2.3,7.2),(-2.12,1.8),(-1.95,0)],
    [(-4,69),(-3.7,66),(-3.4,62),(-3.15,56),(-2.9,48),(-2.69,39.4),(-2.5,34),(-2.34,30.5),(-2.2,25),(-2.08,19.7),(-1.9,12.5),(-1.81,5.4),(-1.75,0)],
    [(-4,68),(-3.8,65.5),(-3.58,61),(-3.4,55.6),(-3.22,48.4),(-3.05,39.4),(-2.91,30.5),(-2.78,22.4),(-2.65,15.2),(-2.52,8.1),(-2.34,2.7),(-2.2,0)],
    [(-4,65),(-3.84,62.7),(-3.66,58.2),(-3.49,51.9),(-3.31,44.8),(-3.18,37.6),(-3.05,30.5),(-2.91,23.3),(-2.78,17),(-2.61,9.9),(-2.43,3.6),(-2.25,0)],
    [(-4,63),(-3.75,59.5),(-3.49,55.9),(-3.22,52.3),(-3.0,47),(-2.83,39.9),(-2.65,32.7),(-2.47,25.5),(-2.34,20.2),(-2.16,14.8),(-1.94,9.4),(-1.81,3),(-1.7,0)],
    [(-4,58),(-3.84,55.6),(-3.66,50.2),(-3.49,43.9),(-3.35,37.6),(-3.22,30.5),(-3.09,23.3),(-2.96,17),(-2.78,10.8),(-2.61,4.5),(-2.45,0)],
    [(-4,52),(-3.84,48.4),(-3.66,43),(-3.53,37.6),(-3.4,31.4),(-3.27,25.1),(-3.13,19.7),(-2.96,13.4),(-2.78,7.2),(-2.6,2),(-2.45,0)],
    [(-4,48),(-3.8,45),(-3.6,40),(-3.4,34),(-3.2,28),(-3.0,22),(-2.8,16),(-2.6,11),(-2.4,7),(-2.2,3),(-2.0,0)],
    [(-4,44),(-3.85,40),(-3.7,35),(-3.5,29),(-3.3,23),(-3.1,17),(-2.9,12),(-2.7,7),(-2.5,3),(-2.3,0)],
    [(-4,40),(-3.8,36),(-3.6,31),(-3.4,26),(-3.2,21),(-3.0,16),(-2.8,11),(-2.6,7),(-2.4,3),(-2.2,0)],
    [(-4,36),(-3.85,33),(-3.65,28),(-3.45,23),(-3.25,18),(-3.05,13),(-2.85,9),(-2.65,5),(-2.45,2),(-2.3,0)],
    [(-4,32),(-3.8,29),(-3.6,25),(-3.4,20),(-3.2,16),(-3.0,12),(-2.8,8),(-2.6,5),(-2.4,2),(-2.2,0)],
    [(-4,28),(-3.8,25),(-3.55,21),(-3.3,17),(-3.05,13),(-2.8,9),(-2.55,5),(-2.3,2),(-2.1,0)],
    [(-4,24),(-3.8,21),(-3.6,18),(-3.4,14),(-3.2,11),(-3.0,8),(-2.75,5),(-2.5,2),(-2.3,0)],
    [(-4,20),(-3.8,18),(-3.55,15),(-3.3,12),(-3.05,9),(-2.8,6),(-2.55,3),(-2.3,1),(-2.1,0)],
    [(-4,17),(-3.75,15),(-3.5,12),(-3.25,9),(-3.0,7),(-2.75,4),(-2.5,2),(-2.25,0)],
    [(-4,14),(-3.8,12),(-3.55,10),(-3.3,8),(-3.05,6),(-2.8,4),(-2.5,2),(-2.2,0)],
    [(-4,12),(-3.7,10),(-3.4,8),(-3.1,6),(-2.8,4),(-2.5,2),(-2.2,1),(-2.0,0)],
    [(-4,10),(-3.75,9),(-3.5,7),(-3.2,5),(-2.9,3),(-2.6,2),(-2.3,1),(-2.0,0)],
    [(-4,9),(-3.8,8),(-3.6,7),(-3.3,6),(-3.1,4),(-2.8,2),(-2.5,1),(-2.3,0)],
    [(-4,8),(-3.7,7),(-3.4,5),(-3.1,4),(-2.8,2),(-2.5,1),(-2.2,0)],
    [(-4,7),(-3.9,7),(-3.6,6),(-3.3,5),(-3.0,3.5),(-2.7,2),(-2.4,1),(-2.1,0)],
    [(-4,6),(-3.6,5),(-3.2,4),(-2.9,3),(-2.6,2),(-2.3,1),(-1.9,0)],
    [(-4,5),(-3.8,5),(-3.5,4.5),(-3.3,4),(-3.0,3),(-2.7,2),(-2.4,1),(-2.2,0)],
    [(-4,4),(-3.6,3.5),(-3.2,3),(-2.8,2),(-2.4,1),(-2.0,0.5),(-1.8,0)],
    [(-4,3),(-3.4,2.5),(-2.8,2),(-2.2,1),(-1.6,0.5),(-1.4,0)],
    [(-4,2),(-3.2,1.5),(-2.4,1),(-1.6,0.5),(-1.2,0)],
]
st_lime = [
    [(-4,96.5),(-3.56,96.5),(-3.12,95.3),(-2.95,94.4),(-2.81,93.5),(-2.59,92.2),(-2.46,90.9),(-2.37,89.1),(-2.33,85.5),(-2.24,82.8),(-2.15,81),(-2.02,76.5),(-1.88,72.9),(-1.8,67.6),(-1.71,62.2),(-1.62,55),(-1.53,47),(-1.47,36.2),(-1.4,27.2),(-1.31,18.3),(-1.22,11.1),(-1.09,6.6),(-0.91,4),(-0.78,1.3),(-0.65,0)],
    [(-4,59),(-3.58,53.8),(-3.22,50.2),(-3.0,47.5),(-2.87,44.8),(-2.74,40.3),(-2.6,36.7),(-2.45,32),(-2.3,27),(-2.15,21),(-2.0,14),(-1.85,8),(-1.7,3),(-1.55,0)],
    [(-4,56),(-3.9,54),(-3.75,50),(-3.6,46),(-3.45,43),(-3.3,41),(-3.15,38),(-3.0,34),(-2.85,29),(-2.7,23),(-2.55,17),(-2.4,11),(-2.25,6),(-2.1,2),(-1.95,0)],
    [(-4,42),(-3.85,40),(-3.7,37),(-3.55,34),(-3.4,30),(-3.25,27),(-3.1,24),(-2.95,21),(-2.8,18),(-2.6,14),(-2.4,10),(-2.2,6),(-2.0,3),(-1.8,1),(-1.6,0)],
    [(-4,35),(-3.85,33),(-3.7,30),(-3.5,26),(-3.3,22),(-3.1,18),(-2.9,14),(-2.7,10),(-2.5,7),(-2.3,4),(-2.1,2),(-1.9,0)],
    [(-4,30),(-3.8,28),(-3.6,25),(-3.4,22),(-3.2,19),(-3.0,16),(-2.8,13),(-2.6,10),(-2.4,7),(-2.2,4),(-2.0,2),(-1.8,0)],
    [(-4,28),(-3.6,27),(-3.3,25),(-3.0,22),(-2.7,19),(-2.5,16),(-2.3,13),(-2.1,10),(-1.9,7),(-1.7,4),(-1.5,2),(-1.3,0)],
    [(-4,25),(-3.85,23),(-3.65,20),(-3.45,17),(-3.25,14),(-3.05,11),(-2.85,8),(-2.65,6),(-2.45,4),(-2.25,2),(-2.05,0)],
    [(-4,20),(-3.8,18),(-3.6,15),(-3.4,12),(-3.2,10),(-3.0,8),(-2.8,6),(-2.55,4),(-2.3,2),(-2.0,0)],
    [(-4,15),(-3.8,13),(-3.6,11),(-3.4,9),(-3.2,7),(-2.95,5),(-2.7,3),(-2.4,1),(-2.2,0)],
    [(-4,11),(-3.8,10),(-3.55,8),(-3.3,6),(-3.0,4),(-2.7,2),(-2.4,1),(-2.1,0)],
    [(-4,7),(-3.7,6),(-3.4,5),(-3.1,3),(-2.8,2),(-2.5,1),(-2.2,0)],
    [(-4,4),(-3.6,3),(-3.2,2),(-2.8,1.5),(-2.4,1),(-2.0,0)],
]
st_lightblue = [
    [(-4,76.3),(-3.56,76.3),(-3.21,75.6),(-2.95,74.7),(-2.81,72.9),(-2.68,70.2),(-2.55,67.5),(-2.41,64),(-2.28,60.4),(-2.19,56.8),(-2.1,51.4),(-2.06,45.2),(-2.0,36.2),(-1.91,27.2),(-1.8,20),(-1.66,13.8),(-1.53,8.4),(-1.36,4),(-1.18,1.3),(-1.1,0)],
]
st_brown = [
    [(-4,90.6),(-3.21,90.6),(-3.12,89.5),(-2.81,89.1),(-2.59,88.2),(-2.41,86.8),(-2.28,85.5),(-2.15,83.7),(-2.02,81),(-1.88,76.5),(-1.75,72.9),(-1.66,67.6),(-1.57,61.3),(-1.49,55),(-1.4,47.8),(-1.38,45.2),(-1.31,36.2),(-1.22,27.2),(-1.14,18.3),(-1.0,11.1),(-0.87,6.6),(-0.74,3),(-0.65,0.8),(-0.62,0)],
    [(-4,60.9),(-3.84,60),(-3.71,55.6),(-3.58,49.3),(-3.44,41.2),(-3.36,34.1),(-3.22,25.1),(-3.13,18.8),(-3.0,12.5),(-2.83,7.2),(-2.65,3.6),(-2.34,0.9),(-2.2,0)],
]
st_purple = [
    [(-4,100),(-1.93,100),(-1.71,98.9),(-1.62,98),(-1.44,96.2),(-1.31,93.5),(-1.22,90.9),(-1.09,86.4),(-1.0,81.9),(-0.87,78.3),(-0.82,74.7),(-0.74,70.2),(-0.65,64.8),(-0.6,60.4),(-0.56,54.1),(-0.51,45.4),(-0.47,36.2),(-0.4,27.2),(-0.34,18.3),(-0.25,11.1),(-0.16,6.6),(-0.08,4),(-0.05,0.3),(0,0)],
    [(-3.92,96.2),(-2.6,96.2),(-2.41,95.8),(-2.06,95.3),(-1.8,93.5),(-1.66,93.1),(-1.49,90.9),(-1.36,89),(-1.27,86.3),(-1.14,81.9),(-1.05,76.5),(-0.96,70.2),(-0.87,62.2),(-0.78,51.4),(-0.76,45.2),(-0.72,36.2),(-0.65,27.2),(-0.56,16.5),(-0.47,10.2),(-0.34,5.7),(-0.21,2.2),(-0.17,0.3),(-0.15,0)],
    [(-4,92),(-3.8,91.7),(-3.56,90.9),(-3.3,89.1),(-3.03,88.2),(-2.81,86.8),(-2.59,85.5),(-2.41,83.7),(-2.24,81.9),(-2.06,81),(-1.88,78.3),(-1.75,74.7),(-1.62,71.1),(-1.53,65.8),(-1.4,60.4),(-1.31,54.1),(-1.22,46),(-1.13,36.2),(-1.05,27.2),(-0.96,18.3),(-0.87,12),(-0.78,7.5),(-0.65,4),(-0.52,1.3),(-0.47,0)],
    [(-4,60.4),(-3.75,59.1),(-3.44,57.3),(-3.0,56.5),(-2.78,54.7),(-2.56,52.9),(-2.43,50.6),(-2.25,49.3),(-2.12,47.5),(-1.95,45.2),(-1.75,38),(-1.53,31.7),(-1.3,27),(-1.05,22.8),(-0.9,18),(-0.78,13.8),(-0.65,9.5),(-0.52,5.7),(-0.3,3),(-0.08,0.8),(0,0)],
    [(-4,47.8),(-3.85,44),(-3.6,40),(-3.4,36),(-3.2,32),(-3.0,27),(-2.7,23),(-2.4,20),(-2.0,16),(-1.7,12),(-1.4,8),(-1.1,4),(-0.8,1.5),(-0.5,0)],
    [(-4,45.9),(-3.8,43),(-3.6,38),(-3.4,33),(-3.2,28),(-3.0,23),(-2.8,18),(-2.6,14),(-2.4,10),(-2.2,7),(-2.0,4),(-1.8,2),(-1.5,0.5),(-1.4,0)],
    [(-4,41.6),(-3.7,40),(-3.4,37),(-3.2,34),(-3.0,29),(-2.8,25),(-2.6,21),(-2.4,17),(-2.2,13),(-2.0,9),(-1.8,6),(-1.6,3),(-1.3,1),(-1.0,0)],
    [(-4,38.9),(-3.85,35),(-3.7,31),(-3.55,27),(-3.4,23),(-3.2,19),(-3.0,15),(-2.8,12),(-2.6,9),(-2.4,6),(-2.2,4),(-2.0,2),(-1.7,0.5),(-1.6,0)],
    [(-3.97,31),(-2.86,31),(-2.59,29.5),(-2.24,27.3),(-1.8,22.8),(-1.44,19.2),(-1.14,15.6),(-0.91,9.3),(-0.65,4),(-0.52,1.3),(-0.45,0)],
    [(-4,11),(-3.0,10.5),(-2.24,9.3),(-1.8,8),(-1.36,6.6),(-1.0,4),(-0.8,2.5),(-0.65,1.3),(-0.5,0)],
    [(-4,27),(-3.85,25),(-3.7,22),(-3.5,19),(-3.3,16),(-3.1,13),(-2.9,10),(-2.7,8),(-2.5,6),(-2.3,4),(-2.1,2),(-1.9,1),(-1.7,0)],
    [(-4,22),(-3.8,21),(-3.6,19),(-3.4,17),(-3.2,14),(-3.0,12),(-2.8,10),(-2.6,8),(-2.4,6),(-2.2,4),(-2.0,3),(-1.7,2),(-1.4,1),(-1.1,0)],
    [(-4,14),(-3.8,13),(-3.5,12),(-3.2,10),(-2.9,8),(-2.6,6),(-2.3,4),(-2.0,3),(-1.7,2),(-1.3,1),(-1.0,0)],
    [(-4,9),(-3.7,8),(-3.4,7),(-3.1,6),(-2.8,4),(-2.5,3),(-2.2,2),(-1.8,1),(-1.4,0.5),(-1.2,0)],
    [(-4,5),(-3.5,4),(-3.0,3),(-2.5,2.5),(-2.0,2),(-1.5,1.5),(-1.0,1),(-0.6,0.5),(-0.4,0)],
]
st_label_text = ['27', '17', '31', '45', '707', '504', '881', '1004']
st_label_y = [100, 96.2, 92, 60.4, 47.8, 45.9, 41.6, 38.9]

# ---------------- figure ----------------
GREY = '#BEBEBE'

fig = plt.figure(figsize=(7.72, 9.75), dpi=100)

W, H = 772.0, 975.0
panel_boxes = {
    'td': (42, 29, 378, 443),
    'ra': (431, 29, 768, 443),
    'vi': (42, 521, 378, 936),
    'st': (431, 520, 768, 935),
}


def make_axes(key, title):
    x0, y0, x1, y1 = panel_boxes[key]
    ax = fig.add_axes([x0 / W, 1 - y1 / H, (x1 - x0) / W, (y1 - y0) / H])
    ax.set_xlim(-4.29, 0.16)
    ax.set_ylim(-7.4, 104.1)
    for s in ax.spines.values():
        s.set_color('#333333')
        s.set_linewidth(1.1)
    ax.set_yticks(range(0, 101, 10))
    ax.set_xticks([-4, -3, -2, -1, 0])
    ax.set_xticklabels(['-4', '-3', '-2', '-1', '0'], rotation=90)
    ax.tick_params(length=3, width=0.8, color='#333333', labelsize=7.5,
                   labelcolor='#222222', pad=2)
    ax.set_ylabel('Percent Ubiquity', fontsize=8.5, labelpad=4)
    ax.set_xlabel('Log$_{10}$(Abundance)', fontsize=8.5, labelpad=3)
    fig.text(x0 / W, 1 - (y0 - 13) / H, title, fontsize=11,
             fontweight='bold', ha='left', va='baseline')
    return ax


def draw(ax, curves, color, lw):
    for c in curves:
        xs = [p[0] for p in c]
        ys = [p[1] for p in c]
        ax.plot(xs, ys, color=color, lw=lw, solid_joinstyle='miter')


def frame_lines(ax, color, lw):
    ax.plot([-4, -4], [0, 100], color=color, lw=lw)
    ax.plot([-4, 0], [0, 0], color=color, lw=lw)


GLW = 0.75
CLW = 1.5

# Tongue dorsum
ax = make_axes('td', 'Tongue dorsum')
draw(ax, td_grey, GREY, GLW)
draw(ax, td_magenta, '#B84FA0', CLW)
draw(ax, td_purple, '#7E2C8F', CLW)
draw(ax, td_orange, '#F7931E', CLW)
draw(ax, td_olive, '#8B8A2E', CLW)
draw(ax, td_cyan, '#5BC6DB', CLW)
draw(ax, td_green, '#6CBE45', CLW)
draw(ax, td_red, '#E5262B', CLW)
draw(ax, td_blue, '#3A53A3', CLW)
frame_lines(ax, '#3A53A3', CLW)

# R Antecubital fossa
ax = make_axes('ra', 'R Antecubital fossa')
draw(ax, ra_grey, GREY, GLW)
draw(ax, ra_darkred, '#8C1B1B', CLW)
draw(ax, ra_cyan, '#86D0E2', CLW)
draw(ax, ra_orange, '#F7A02E', CLW)
frame_lines(ax, '#8C1B1B', CLW)

# Vaginal introitus
ax = make_axes('vi', 'Vaginal introitus')
draw(ax, vi_grey, GREY, GLW)
draw(ax, vi_green, '#9CCB6A', CLW)
frame_lines(ax, '#9CCB6A', CLW)

# Stool
ax = make_axes('st', 'Stool')
draw(ax, st_grey, GREY, GLW)
draw(ax, st_blue, '#3B4EA2', CLW)
draw(ax, st_lime, '#C9DC2E', CLW)
draw(ax, st_lightblue, '#7FB2DD', CLW)
draw(ax, st_brown, '#8A4A1E', CLW)
draw(ax, st_purple, '#9B4AA0', CLW)
frame_lines(ax, '#C9DC2E', CLW)
for t, yv in zip(st_label_text, st_label_y):
    ax.text(-4.04, yv, t, fontsize=4.8, color='#9B4AA0', ha='right', va='center')

fig.savefig('out.png', dpi=100)
